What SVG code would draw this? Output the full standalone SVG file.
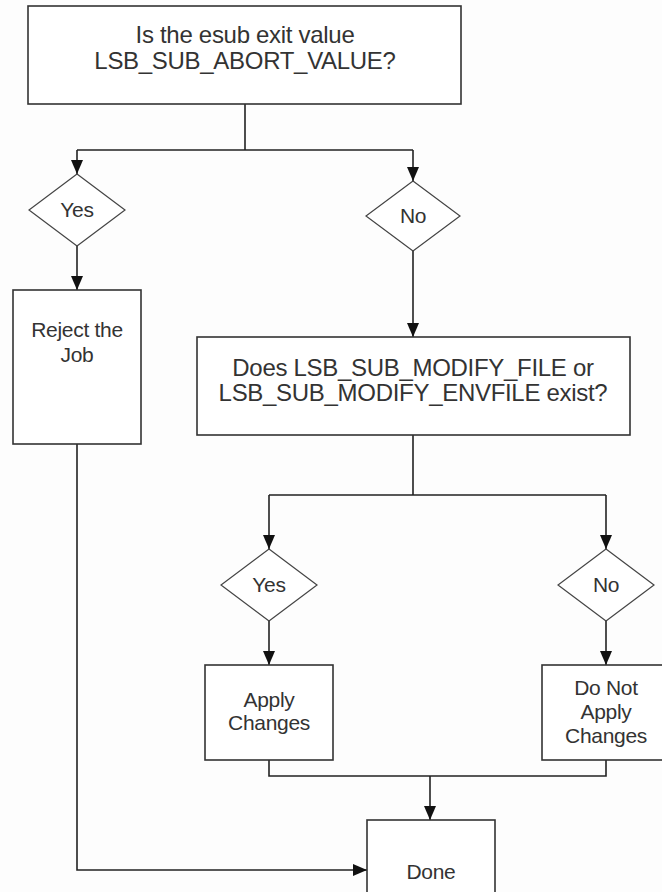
<svg xmlns="http://www.w3.org/2000/svg" width="662" height="892" viewBox="0 0 662 892">
<defs>
<style>
.box{fill:#fff;stroke:#333;stroke-width:1.6}
.dia{fill:#fff;stroke:#444;stroke-width:1.2}
.t{font-family:"Liberation Sans",Arial,sans-serif;font-size:24px;fill:#333;text-anchor:middle;letter-spacing:-0.3px}
.st{font-family:"Liberation Sans",Arial,sans-serif;font-size:21px;fill:#333;text-anchor:middle;letter-spacing:-0.3px}
.c{fill:none;stroke:#222;stroke-width:1.6}
</style>
<marker id="ah" viewBox="0 0 14 12" refX="14" refY="6" markerWidth="14" markerHeight="12" markerUnits="userSpaceOnUse" orient="auto">
<path d="M0,0 L14,6 L0,12 Z" fill="#111"/>
</marker>
</defs>
<rect width="662" height="892" fill="#fdfdfd"/>
<g id="connectors">
<path class="c" d="M245,104 V150 M77,150 H413"/>
<path class="c" d="M77,150 V174" marker-end="url(#ah)"/>
<path class="c" d="M413,150 V181" marker-end="url(#ah)"/>
<path class="c" d="M77,246 V290" marker-end="url(#ah)"/>
<path class="c" d="M413,251 V337" marker-end="url(#ah)"/>
<path class="c" d="M413,435 V495 M269,495 H606"/>
<path class="c" d="M269,495 V549" marker-end="url(#ah)"/>
<path class="c" d="M606,495 V549" marker-end="url(#ah)"/>
<path class="c" d="M269,621 V665" marker-end="url(#ah)"/>
<path class="c" d="M606,621 V665" marker-end="url(#ah)"/>
<path class="c" d="M269,760 V776 H606 V760"/>
<path class="c" d="M430,776 V820" marker-end="url(#ah)"/>
<path class="c" d="M77,444 V870 H367" marker-end="url(#ah)"/>
</g>
<g id="q1">
<rect class="box" x="28" y="6" width="433" height="98"/>
<text class="t" x="245" y="43">Is the esub exit value</text>
<text class="t" x="245" y="69">LSB_SUB_ABORT_VALUE?</text>
</g>
<g id="yes1">
<polygon class="dia" points="77,174 125,210 77,246 29,210"/>
<text class="st" x="77" y="217">Yes</text>
</g>
<g id="no1">
<polygon class="dia" points="413,181 460,216 413,251 366,216"/>
<text class="st" x="413" y="223">No</text>
</g>
<g id="reject">
<rect class="box" x="13" y="290" width="128" height="154"/>
<text class="st" x="77" y="337">Reject the</text>
<text class="st" x="77" y="362">Job</text>
</g>
<g id="q2">
<rect class="box" x="197" y="337" width="433" height="98"/>
<text class="t" x="413" y="376">Does LSB_SUB_MODIFY_FILE or</text>
<text class="t" x="413" y="401">LSB_SUB_MODIFY_ENVFILE exist?</text>
</g>
<g id="yes2">
<polygon class="dia" points="269,549 317,585 269,621 221,585"/>
<text class="st" x="269" y="592">Yes</text>
</g>
<g id="no2">
<polygon class="dia" points="606,549 654,585 606,621 558,585"/>
<text class="st" x="606" y="592">No</text>
</g>
<g id="apply">
<rect class="box" x="205" y="665" width="128" height="95"/>
<text class="st" x="269" y="707">Apply</text>
<text class="st" x="269" y="730">Changes</text>
</g>
<g id="noapply">
<rect class="box" x="542" y="665" width="128" height="95"/>
<text class="st" x="606" y="695">Do Not</text>
<text class="st" x="606" y="719">Apply</text>
<text class="st" x="606" y="743">Changes</text>
</g>
<g id="done">
<rect class="box" x="367" y="820" width="128" height="90"/>
<text class="st" x="431" y="879">Done</text>
</g>
</svg>
